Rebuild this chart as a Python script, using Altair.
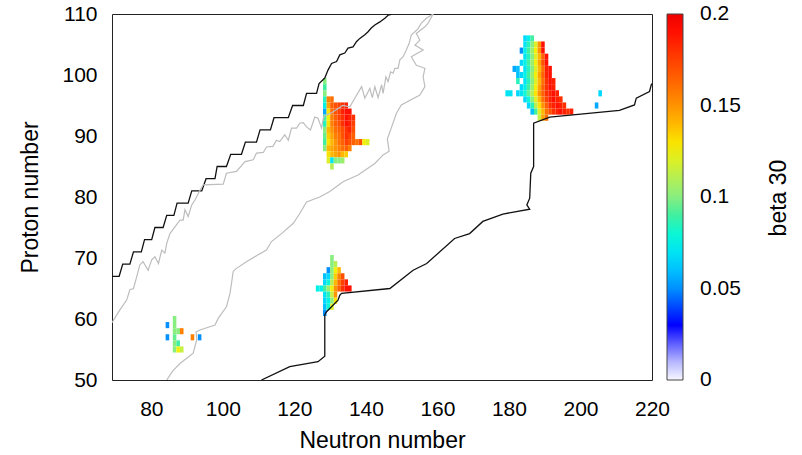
import altair as alt
import pandas as pd

FONT = "Liberation Sans"
X_TICKS = [80, 100, 120, 140, 160, 180, 200, 220]
Y_TICKS = [50, 60, 70, 80, 90, 100, 110]
X_TITLE = "Neutron number"
Y_TITLE = "Proton number"
CB_TITLE = "beta 30"
CB_LABELS = [0, 0.05, 0.1, 0.15, 0.2]
CB_DASHES = [0.05, 0.1, 0.15]
CB_STOPS = [0, 0.012, 0.03, 0.05, 0.065, 0.078, 0.09, 0.1, 0.115, 0.127, 0.14, 0.155, 0.175, 0.19, 0.2]
CB_COLORS = ["#f8f8ff", "#a8a8ff", "#0000ff", "#0090ff", "#00d8ff", "#00f8e0", "#40f0a0",
             "#88ee80", "#c8f040", "#f8f000", "#ffb800", "#ff8000", "#ff4000", "#ff1000", "#f00000"]

# beta 30 cells: (Z, first N, values for N, N+1, ...); None = no cell
rows_a = [
    (60, 86, [0.10]),
    (59, 84, [0.05, None, 0.10]),
    (58, 86, [0.10, 0.10, 0.155]),
    (57, 84, [0.05, None, 0.095, None, None, None, None, 0.155, None, 0.05]),
    (56, 86, [0.10, 0.09]),
    (55, 86, [0.10, 0.125, 0.115]),
]
rows_b = [
    (70, 130, [0.10]),
    (69, 130, [0.10, 0.11]),
    (68, 129, [0.05, 0.10, 0.125, 0.14]),
    (67, 128, [0.06, 0.065, 0.10, 0.135, 0.155, 0.17]),
    (66, 128, [0.065, 0.08, 0.11, 0.14, 0.16, 0.175, 0.185]),
    (65, 126, [0.075, 0.075, 0.09, 0.105, 0.125, 0.15, 0.165, 0.18, 0.19, 0.19]),
    (64, 128, [0.07, 0.085, 0.115, 0.15]),
    (63, 128, [0.065, 0.075, 0.10, 0.13]),
    (62, 128, [0.06, 0.08, 0.12]),
    (61, 128, [0.05]),
]
rows_c = [
    (99, 128, [0.10]),
    (98, 128, [0.09]),
    (97, 128, [0.10]),
    (96, 128, [0.085, 0.155, 0.16]),
    (95, 128, [0.075, 0.145, 0.165, 0.17, 0.175, 0.18, 0.185]),
    (94, 128, [0.055, 0.13, 0.16, 0.17, 0.175, 0.185, 0.19, 0.19]),
    (93, 128, [0.09, 0.125, 0.155, 0.165, 0.175, 0.18, 0.19, 0.185, 0.18]),
    (92, 128, [0.085, 0.13, 0.155, 0.165, 0.17, 0.18, 0.19, 0.185, 0.175]),
    (91, 128, [0.10, 0.14, 0.15, 0.16, 0.165, 0.17, 0.18, 0.185, 0.17]),
    (90, 128, [0.095, 0.135, 0.145, 0.155, 0.16, 0.17, 0.18, 0.175, 0.165]),
    (89, 128, [0.09, 0.13, 0.14, 0.15, 0.16, 0.165, 0.175, 0.17, 0.165, 0.16, 0.17, 0.125, 0.12]),
    (88, 128, [0.10, 0.14, 0.145, 0.15, 0.155, 0.16, 0.165, 0.155]),
    (87, 129, [0.13, 0.14, 0.145, 0.15, 0.14, 0.135]),
    (86, 129, [0.12, 0.07, 0.10, 0.10, 0.105]),
    (85, 130, [0.11]),
]
rows_d = [
    (106, 184, [0.065, 0.075, 0.09]),
    (105, 184, [0.07, 0.085, 0.10, 0.12, 0.15, 0.19]),
    (104, 183, [0.05, 0.075, 0.09, 0.105, 0.125, 0.15, 0.19]),
    (103, 184, [0.07, 0.085, 0.10, 0.12, 0.14, 0.165, 0.19]),
    (102, 183, [0.065, 0.075, 0.09, 0.105, 0.125, 0.145, 0.17, 0.19]),
    (101, 181, [0.055, 0.06, None, 0.07, 0.085, 0.10, 0.12, 0.14, 0.16, 0.185, 0.19]),
    (100, 182, [0.06, 0.065, 0.075, 0.09, 0.105, 0.125, 0.145, 0.165, 0.185, 0.19]),
    (99, 182, [0.085, None, 0.07, 0.085, 0.10, 0.12, 0.14, 0.16, 0.18, 0.19, 0.185]),
    (98, 183, [0.065, 0.075, 0.09, 0.105, 0.125, 0.145, 0.165, 0.18, 0.19, 0.185]),
    (97, 179, [0.07, 0.07, None, 0.065, 0.07, 0.08, 0.095, 0.11, 0.13, 0.15, 0.165, 0.18, 0.185, 0.19, 0.185]),
    (96, 184, [0.065, 0.08, 0.10, 0.12, 0.14, 0.16, 0.175, 0.185, 0.19, 0.185, 0.18]),
    (95, 185, [0.065, 0.085, 0.11, 0.13, 0.15, 0.165, 0.18, 0.185, 0.19, 0.185, 0.18]),
    (94, 186, [0.06, 0.09, 0.12, 0.14, 0.16, 0.17, 0.18, 0.185, 0.19, 0.185, 0.18, 0.185]),
    (93, 188, [0.115, 0.145, 0.16]),
    (97, 205, [0.065]),
    (95, 204, [0.055]),
]

# drip lines (black) and contour lines (grey)
drip_p_N = [69, 71, 72, 74, 75, 77.2, 78.1, 80.1, 81, 83.3, 84.3, 86.3, 87.2, 90.3, 91.3, 94.1, 95.3, 97.8, 98.4, 101,
            102.2, 105.2, 106.3, 109.4, 110.4, 113.3, 114.3, 118.3, 119.5, 122.5, 123.4, 126.2, 126.9, 128.5, 129.4,
            130.4, 131.8, 132.7, 134.1, 135, 136.4, 137.4, 138.3, 139.7, 140.6, 141.5, 142.5, 143.9, 145.3, 146.2, 147.4]
drip_p_Z = [67, 67, 69, 69, 71, 71, 73, 73, 75, 75, 77, 77, 79, 79, 81, 81, 83, 83, 85, 85,
            87, 87, 89, 89, 91, 91, 93, 93, 95, 95, 97, 97, 98.6, 99.5, 100.8,
            101.9, 102.2, 103.3, 103.6, 104.4, 104.6, 105.5, 106, 106.6, 107.1, 107.7, 108.2, 108.7, 109.3, 109.8, 110]
drip_n_N = [110.8, 118.7, 126.6, 128.5, 128.5, 129, 132.2, 132.7, 133.2, 146.7, 153.2, 157, 164.8, 169, 172.7, 178.3,
            185.8, 185, 185.8, 186.1, 186.9, 186.9, 191.4, 210.9, 215.1, 215.6, 219.3, 219.8, 220]
drip_n_Z = [50, 52.2, 53, 53.9, 60.7, 61.2, 63.1, 63.9, 64.2, 65, 68, 69.1, 73.2, 74, 76, 77.2,
            78, 78.7, 79.8, 83.9, 85, 92.1, 93.1, 94.2, 95.1, 96.2, 97.3, 98.4, 98.6]
grey_a_N = [69, 71.2, 73.1, 74, 75, 75.9, 76.8, 77.7, 79.1, 80.1, 81, 82, 82.9, 83.8, 84.3, 85.2, 86.6, 88, 88.9, 89.4,
            90.3, 91.3, 92.2, 93.6, 94.5, 100.1, 101, 103.8, 106.2, 108.5, 109.4, 111.3, 112.2, 114, 115, 115.9, 117.3,
            118.3, 119.2, 120.6, 121.5, 122.5, 123.4, 124.5, 125.7, 126.6, 127.6, 128.2, 131, 133.5, 135.5, 136.9,
            138.8, 139.7, 141.1, 141.8, 142.5, 143.4, 144.4, 144.8, 145.6, 146.2, 146.9, 147.6, 148.1, 149, 149.5,
            150.4, 151.3, 152.1, 152.7, 153.7, 154.6, 155.5, 156.9, 158.8]
grey_a_Z = [59.4, 61.5, 63.1, 64.8, 65, 66.9, 68.9, 69.4, 68, 69.7, 70.2, 69.1, 71.3, 70.8, 72.4, 74, 75.1, 76.2, 76.2,
            77.9, 76.8, 78.7, 79.5, 81.1, 82, 82.1, 83.9, 84.2, 85.8, 86.1, 87.2, 87.3, 88.2, 88.3, 89.3, 89.1, 90.2,
            89.3, 91.3, 91.3, 92.1, 92.2, 91.5, 91, 93.1, 92.9, 91.3, 93.2, 94, 95, 94.8, 96.2,
            98.1, 96.2, 97.8, 96.3, 98.1, 96.3, 98.4, 97, 99.7, 98.9, 100.5, 100.3, 101.1, 101.1, 102.5,
            103, 104.1, 105.2, 106.6, 107.1, 107.6, 108.5, 109.3, 110]
grey_b_N = [84.3, 86, 88, 90, 91.7, 92.7, 92.5, 93.6, 97.8, 98.7, 101, 102, 102.9, 103.8, 106.6, 109.5, 112.2, 113.6,
            116.4, 119.7, 121.5, 123.4, 127.1, 129.9, 133.6, 137.8, 142.5, 144.8, 146.5, 146, 147.2, 148.5, 149.9,
            155.1, 156.5, 156, 156.5, 154.1, 152.7, 156, 153.7, 155.1, 154.1, 156.5, 157.4, 158.8]
grey_b_Z = [50, 51.5, 52.7, 53.6, 54.4, 56.6, 57.9, 58.2, 59, 60.1, 62, 64.2, 67.8, 68.3, 69.4, 70.4, 71.3, 72.7,
            74, 75.7, 77.3, 79.2, 80, 80.9, 82.5, 83.6, 85.5, 86.9, 87.5, 89.5, 91.5, 93.7, 95.1,
            96.7, 98.1, 99.7, 101.1, 101.6, 103, 104.1, 104.9, 105.7, 106.8, 107.9, 108.5, 110]

cells = []
for rows in (rows_a, rows_b, rows_c, rows_d):
    for z, n0, vals in rows:
        for i, v in enumerate(vals):
            if v is None:
                continue
            n = n0 + i
            cells.append({"N0": n, "N1": n + 1, "Z0": z - 0.5, "Z1": z + 0.5, "beta": v})
cell_df = pd.DataFrame(cells)

line_rows = []
for name, ns, zs, col, w in [("drip_p", drip_p_N, drip_p_Z, "#111111", 1.3),
                             ("drip_n", drip_n_N, drip_n_Z, "#111111", 1.3),
                             ("grey_a", grey_a_N, grey_a_Z, "#bdbdbd", 1.2),
                             ("grey_b", grey_b_N, grey_b_Z, "#bdbdbd", 1.2)]:
    for i, (n, z) in enumerate(zip(ns, zs)):
        line_rows.append({"N": n, "Z": z, "line": name, "i": i, "col": col, "w": w})
line_df = pd.DataFrame(line_rows)

xs = alt.Scale(domain=[69, 220], nice=False, zero=False)
ys = alt.Scale(domain=[50, 110], nice=False, zero=False)
x_axis = alt.Axis(values=X_TICKS, title=X_TITLE, labelPadding=18, labelFlush=False, titleX=270, titleY=60,
                  titleBaseline="middle", titleAlign="center")
y_axis = alt.Axis(values=Y_TICKS, title=Y_TITLE, labelPadding=15, labelFlush=False, titleX=-82, titleY=183,
                  titleAngle=270, titleBaseline="middle", titleAlign="center")

heat = alt.Chart(cell_df).mark_rect().encode(
    x=alt.X("N0:Q", scale=xs, axis=x_axis, title=X_TITLE),
    x2="N1:Q",
    y=alt.Y("Z0:Q", scale=ys, axis=y_axis, title=Y_TITLE),
    y2="Z1:Q",
    color=alt.Color("beta:Q",
                    scale=alt.Scale(domain=CB_STOPS, range=CB_COLORS, interpolate="rgb"),
                    legend=alt.Legend(orient="none", legendX=555, legendY=0, direction="vertical",
                                      gradientLength=366, gradientThickness=16, labelOpacity=0,
                                      labelFontSize=1, values=[0],
                                      gradientStrokeColor="#444444", gradientStrokeWidth=1, title=None)),
)

lines = alt.Chart(line_df).mark_line(clip=True).encode(
    x=alt.X("N:Q", scale=xs, axis=x_axis, title=X_TITLE),
    y=alt.Y("Z:Q", scale=ys, axis=y_axis, title=Y_TITLE),
    detail="line:N",
    order="i:Q",
    stroke=alt.Stroke("col:N", scale=None),
    strokeWidth=alt.StrokeWidth("w:Q", scale=None),
)

main = alt.layer(heat, lines)

cb_scale = alt.Scale(domain=[0, 0.2], nice=False, zero=False)
dashes = alt.Chart(pd.DataFrame({"v": CB_DASHES})).mark_rule(
    color="#333333", strokeWidth=1, strokeDash=[6, 4]
).encode(
    y=alt.Y("v:Q", scale=cb_scale, axis=None),
    x=alt.value(555),
    x2=alt.value(571),
)

cb_labels = alt.Chart(pd.DataFrame({"v": CB_LABELS})).mark_text(
    font=FONT, fontSize=21, color="black", align="left", baseline="middle"
).encode(
    y=alt.Y("v:Q", scale=cb_scale, axis=None),
    x=alt.value(588),
    text=alt.Text("v:Q", format=".2~f"),
)

cb_title = alt.Chart(pd.DataFrame({"t": [CB_TITLE]})).mark_text(
    angle=270, font=FONT, fontSize=23, color="black", align="center", baseline="middle"
).encode(text="t:N", x=alt.value(667), y=alt.value(184))

chart = alt.layer(main, dashes, cb_labels, cb_title).resolve_scale(y="independent").properties(
    width=540, height=366,
    autosize=alt.AutoSizeParams(type="none"),
    padding={"left": 112, "top": 14, "right": 150, "bottom": 75},
    background="white",
).configure_view(stroke="#222222", strokeWidth=1).configure_axis(
    labelFont=FONT, titleFont=FONT, labelFontSize=21, titleFontSize=23, titleFontWeight="normal",
    labelColor="black", titleColor="black", domain=False, ticks=False, tickSize=0, grid=False,
)

chart.save("out.html", embed_options={"renderer": "svg", "actions": False})
